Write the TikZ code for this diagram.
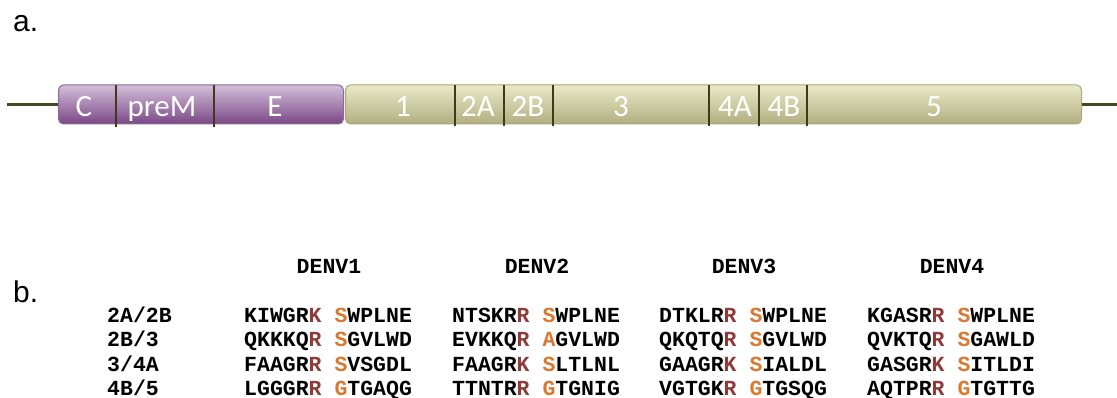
\documentclass[tikz,border=0pt]{standalone}
\usepackage{fontspec}
\setmainfont{Liberation Sans}
\newfontfamily\barfont{Carlito}
\newfontfamily\seqfont{Liberation Mono}
\definecolor{ptop}{HTML}{D3BFDA}
\definecolor{pbot}{HTML}{7A4886}
\definecolor{pbord}{HTML}{8C6896}
\definecolor{otop}{HTML}{E9E9C8}
\definecolor{obot}{HTML}{B1AF80}
\definecolor{obord}{HTML}{A9A87A}
\definecolor{divc}{HTML}{3E3A1A}
\definecolor{linec}{HTML}{4A4522}
\definecolor{kr}{HTML}{8E3B3B}
\definecolor{so}{HTML}{D9782E}
\newcommand{\sq}[4]{#1\textcolor{kr}{#2}\ \textcolor{so}{#3}#4}
\tikzset{
  seg/.style={rounded corners=5pt, line width=1pt, inner sep=0pt, minimum height=39pt, anchor=west},
  divider/.style={draw=divc, line width=2.6pt},
  genline/.style={draw=linec, line width=2.6pt},
  barlab/.style={anchor=base, text=white, font=\barfont\fontsize{31}{31}\selectfont, inner sep=0pt},
  panel/.style={anchor=base west, font=\fontsize{30}{30}\selectfont, inner sep=0pt},
  seqtxt/.style={anchor=base west, font=\seqfont\bfseries\fontsize{21.5}{24}\selectfont, inner sep=0pt},
  head/.style={anchor=base, font=\seqfont\bfseries\fontsize{21.5}{24}\selectfont, inner sep=0pt}
}
\begin{document}
\begin{tikzpicture}[x=1pt,y=-1pt]
\useasboundingbox (0,0) rectangle (1117,398);
% panel labels
\node[panel] (pa) at (13,32) {a.};
\node[panel] (pb) at (13,302) {b.};
% genome bar
\coordinate (L0) at (7,104.5);
\coordinate (R0) at (1117,104.5);
\node[seg, draw=pbord, top color=ptop, bottom color=pbot, minimum width=285pt] (vp) at (58,104.5) {};
\node[seg, draw=obord, top color=otop, bottom color=obot, minimum width=736pt] (vo) at (345,104.5) {};
\draw[genline] (L0) -- (vp.west);
\draw[genline] (vo.east) -- (R0);
\foreach \x in {116,214} \draw[divider] (\x,85) -- (\x,127);
\foreach \x in {455,504,553,709,759,807} \draw[divider] (\x,85) -- (\x,126);
\node[barlab] (lC) at (84,117) {C};
\node[barlab] (lpreM) at (162,117) {preM};
\node[barlab] (lE) at (275,117) {E};
\node[barlab] (l1) at (403,117) {1};
\node[barlab] (l2A) at (478,117) {2A};
\node[barlab] (l2B) at (528,117) {2B};
\node[barlab] (l3) at (621,117) {3};
\node[barlab] (l4A) at (735,117) {4A};
\node[barlab] (l4B) at (784,117) {4B};
\node[barlab] (l5) at (934,117) {5};
% headers
\node[head] (h1) at (329,273) {DENV1};
\node[head] (h2) at (537,273) {DENV2};
\node[head] (h3) at (744,273) {DENV3};
\node[head] (h4) at (952,273) {DENV4};
% row labels
\node[seqtxt] (r1) at (107,322) {2A/2B};
\node[seqtxt] (r2) at (107,346.5) {2B/3};
\node[seqtxt] (r3) at (107,371) {3/4A};
\node[seqtxt] (r4) at (107,395) {4B/5};
% sequences
\node[seqtxt] (s11) at (244,322) {\sq{KIWGR}{K}{S}{WPLNE}};
\node[seqtxt] (s12) at (452,322) {\sq{NTSKR}{R}{S}{WPLNE}};
\node[seqtxt] (s13) at (659,322) {\sq{DTKLR}{R}{S}{WPLNE}};
\node[seqtxt] (s14) at (867,322) {\sq{KGASR}{R}{S}{WPLNE}};
\node[seqtxt] (s21) at (244,346.5) {\sq{QKKKQ}{R}{S}{GVLWD}};
\node[seqtxt] (s22) at (452,346.5) {\sq{EVKKQ}{R}{A}{GVLWD}};
\node[seqtxt] (s23) at (659,346.5) {\sq{QKQTQ}{R}{S}{GVLWD}};
\node[seqtxt] (s24) at (867,346.5) {\sq{QVKTQ}{R}{S}{GAWLD}};
\node[seqtxt] (s31) at (244,371) {\sq{FAAGR}{R}{S}{VSGDL}};
\node[seqtxt] (s32) at (452,371) {\sq{FAAGR}{K}{S}{LTLNL}};
\node[seqtxt] (s33) at (659,371) {\sq{GAAGR}{K}{S}{IALDL}};
\node[seqtxt] (s34) at (867,371) {\sq{GASGR}{K}{S}{ITLDI}};
\node[seqtxt] (s41) at (244,395) {\sq{LGGGR}{R}{G}{TGAQG}};
\node[seqtxt] (s42) at (452,395) {\sq{TTNTR}{R}{G}{TGNIG}};
\node[seqtxt] (s43) at (659,395) {\sq{VGTGK}{R}{G}{TGSQG}};
\node[seqtxt] (s44) at (867,395) {\sq{AQTPR}{R}{G}{TGTTG}};
\end{tikzpicture}
\end{document}
